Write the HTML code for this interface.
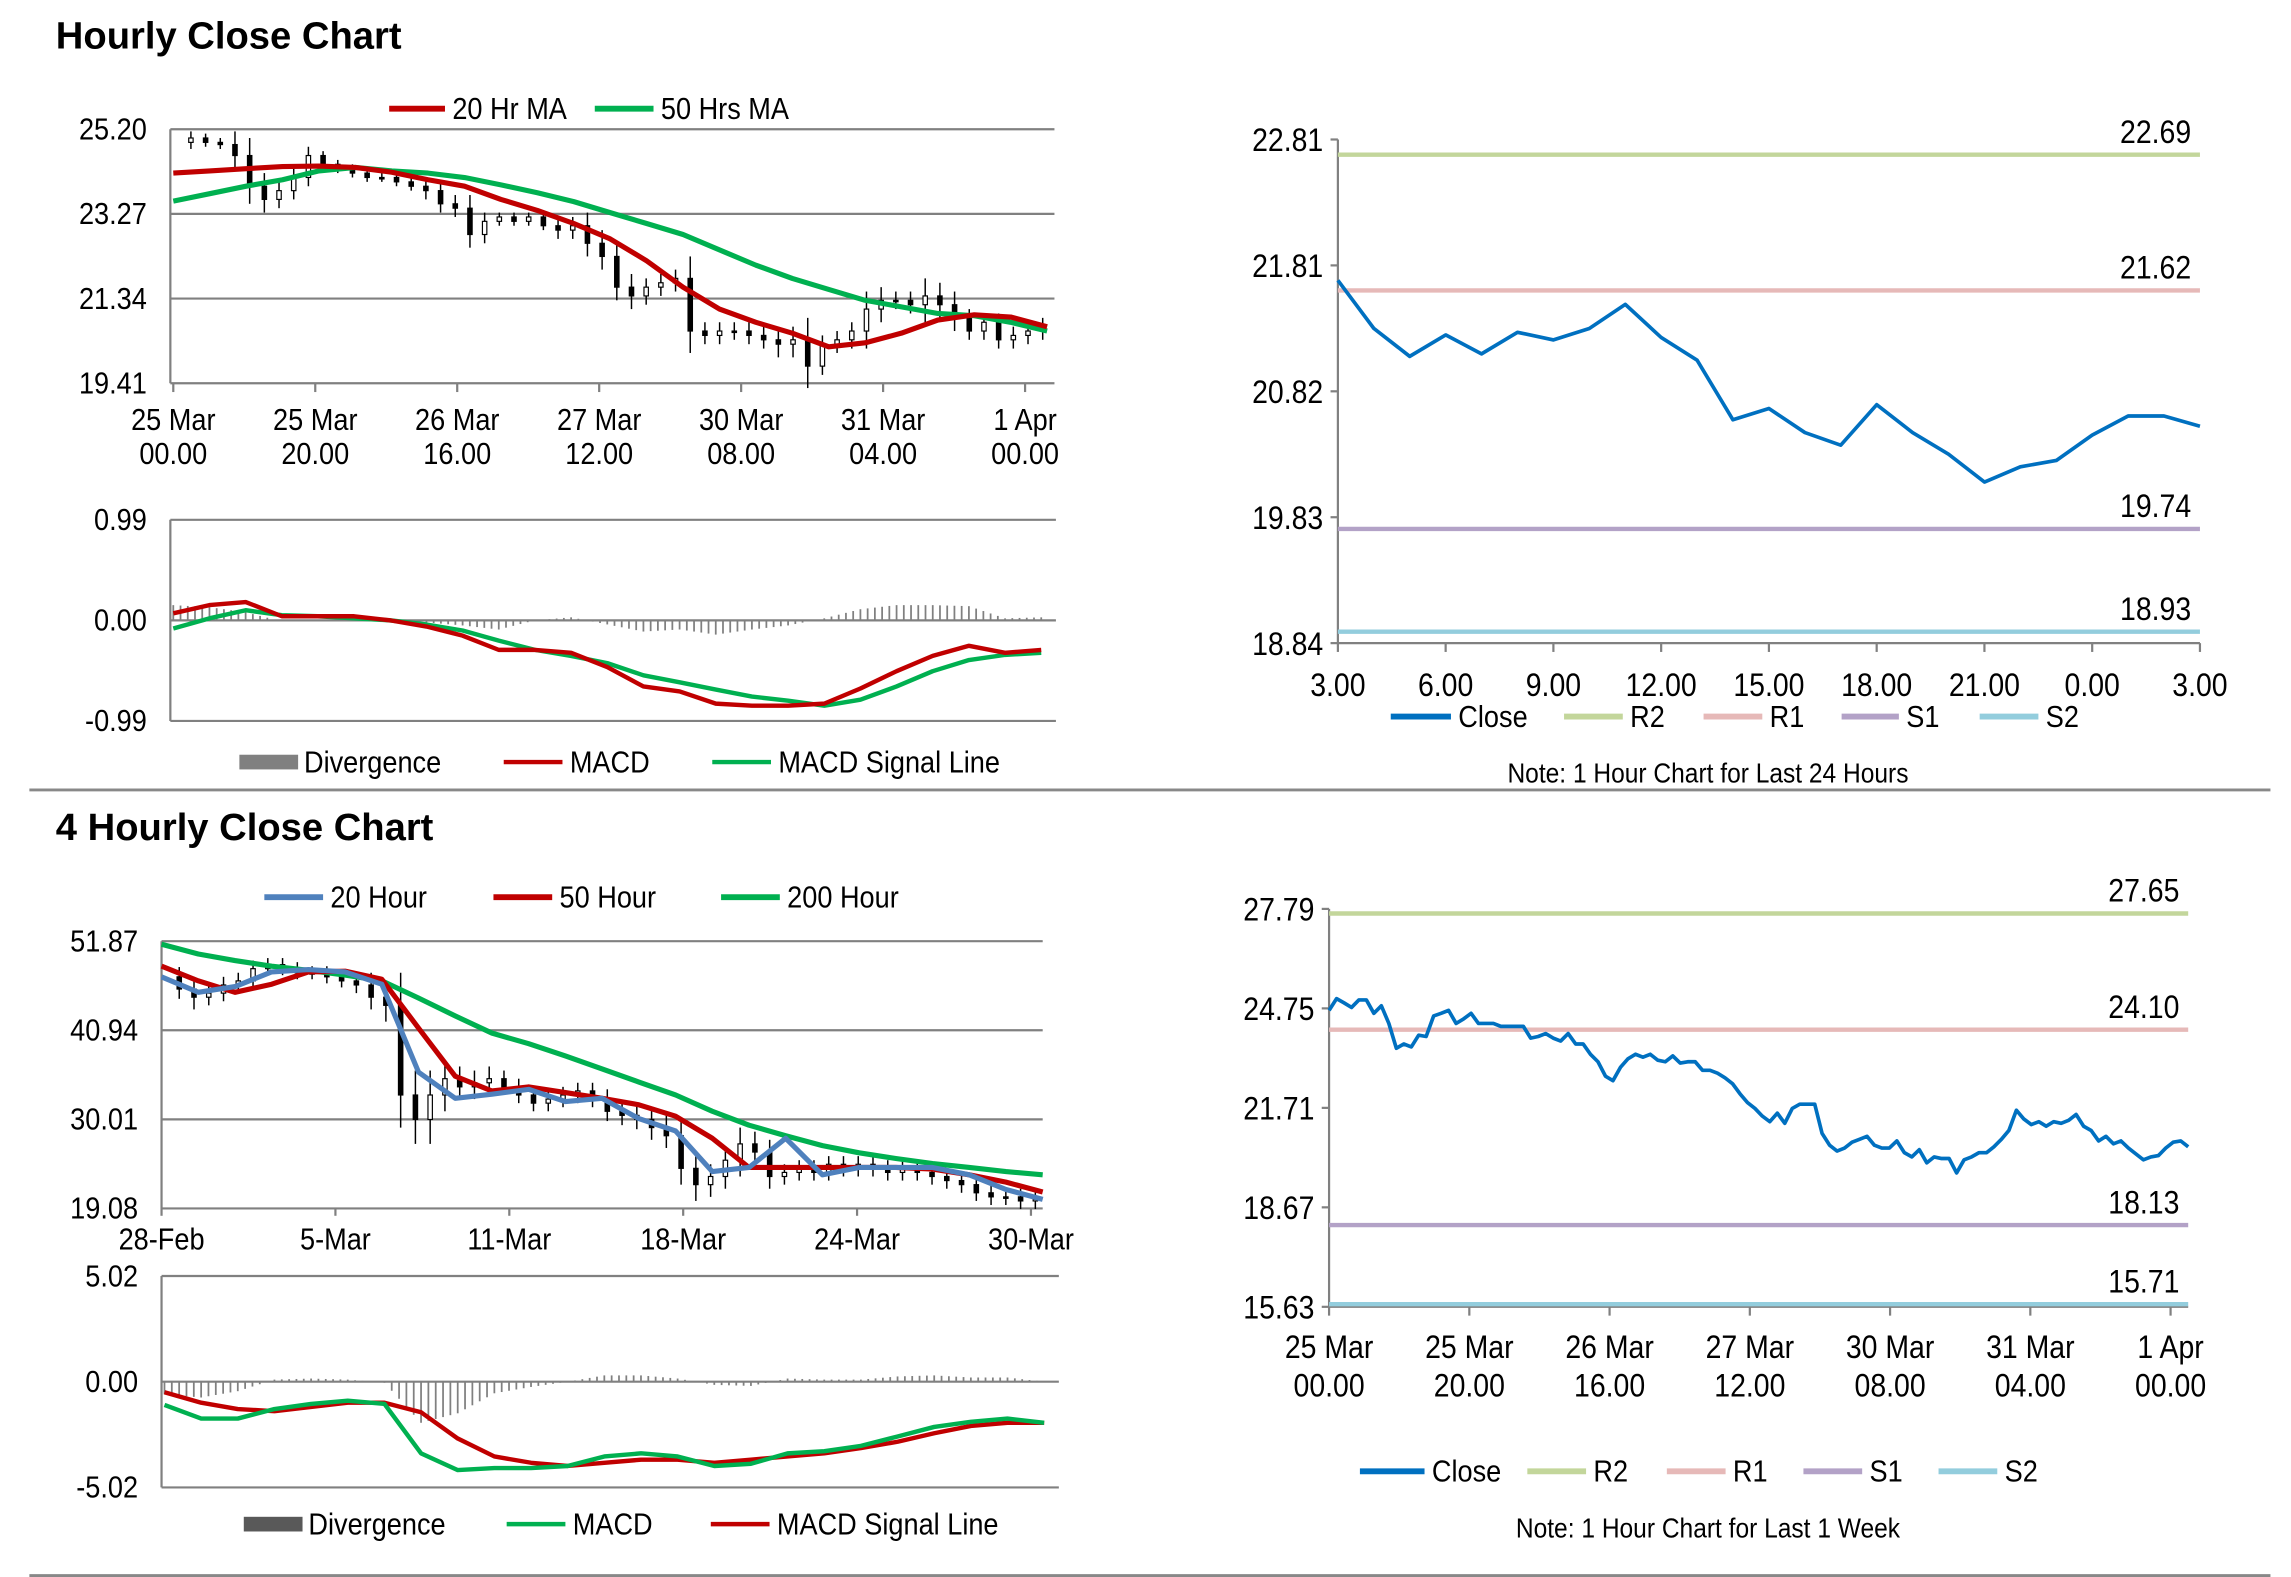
<!DOCTYPE html>
<html><head><meta charset="utf-8"><style>
html,body{margin:0;padding:0;background:#fff}
svg{display:block}
text{font-family:"Liberation Sans Narrow","Liberation Sans",sans-serif;fill:#000}
.t{font-family:"Liberation Sans",sans-serif;font-weight:bold;font-size:26px}
</style></head><body>
<svg id="s" width="2291" height="1577" viewBox="0 0 1560 1074" preserveAspectRatio="none" xmlns="http://www.w3.org/2000/svg">
<text class="t" x="38" y="33">Hourly Close Chart</text>
<text class="t" x="38" y="572">4 Hourly Close Chart</text>
<line x1="20" y1="538" x2="1546" y2="538" stroke="#888" stroke-width="2"/>
<line x1="20" y1="1073" x2="1546" y2="1073" stroke="#888" stroke-width="2"/>
<text transform="translate(1163,533) scale(0.88,1)" font-size="19" text-anchor="middle">Note: 1 Hour Chart for Last 24 Hours</text>
<text transform="translate(1163,1047) scale(0.88,1)" font-size="19" text-anchor="middle">Note: 1 Hour Chart for Last 1 Week</text>
</svg>
<script>
// ---- Chart 1 (hourly candles + MAs)
const c1Closes=[24.9,25.0,24.9,24.85,24.6,23.9,23.6,23.8,24.1,24.6,24.4,24.3,24.2,24.1,24.1,24.0,23.9,23.8,23.5,23.4,22.8,23.1,23.2,23.1,23.2,23.0,22.9,23.0,22.6,22.3,21.6,21.4,21.6,21.7,21.8,20.6,20.5,20.6,20.6,20.5,20.4,20.3,20.4,19.8,20.3,20.4,20.6,21.1,21.3,21.3,21.2,21.4,21.2,20.9,20.6,20.8,20.4,20.5,20.6,20.7];
const c1Wicks=[0.2,0.15,0.1,0.1,0.3,0.4,0.3,0.2,0.2,0.2,0.1,0.1,0.1,0.1,0.1,0.1,0.1,0.2,0.2,0.2,0.3,0.2,0.1,0.1,0.1,0.1,0.2,0.2,0.3,0.3,0.3,0.3,0.2,0.2,0.2,0.5,0.2,0.2,0.2,0.2,0.2,0.3,0.3,0.5,0.2,0.2,0.2,0.4,0.3,0.2,0.2,0.4,0.3,0.3,0.2,0.2,0.2,0.2,0.2,0.2];
const c1MA20=[24.2,24.25,24.3,24.35,24.36,24.33,24.22,24.05,23.9,23.6,23.35,23.05,22.7,22.2,21.6,21.1,20.8,20.55,20.24,20.33,20.55,20.85,20.97,20.92,20.7];
const c1MA50=[23.56,23.73,23.9,24.05,24.25,24.33,24.25,24.2,24.1,23.93,23.75,23.55,23.3,23.05,22.8,22.45,22.1,21.8,21.55,21.3,21.15,21.0,20.95,20.8,20.6];
const c1Ticks=["25.20","23.27","21.34","19.41"];
const c1XLabels=[["25 Mar","00.00"],["25 Mar","20.00"],["26 Mar","16.00"],["27 Mar","12.00"],["30 Mar","08.00"],["31 Mar","04.00"],["1 Apr","00.00"]];
const m1MACD=[0.07,0.15,0.18,0.04,0.04,0.04,0.0,-0.06,-0.15,-0.29,-0.29,-0.32,-0.46,-0.65,-0.7,-0.82,-0.84,-0.84,-0.82,-0.67,-0.5,-0.35,-0.25,-0.32,-0.29];
const m1Signal=[-0.08,0.02,0.1,0.05,0.04,0.02,0,-0.04,-0.1,-0.2,-0.29,-0.35,-0.42,-0.54,-0.61,-0.68,-0.75,-0.79,-0.84,-0.78,-0.65,-0.5,-0.39,-0.34,-0.32];
const m1Ticks=["0.99","0.00","-0.99"];
// ---- Chart 2 (24h close)
const d24Labels=["3.00","6.00","9.00","12.00","15.00","18.00","21.00","0.00","3.00"];
const d24Close=[21.70,21.32,21.10,21.27,21.12,21.29,21.23,21.32,21.51,21.25,21.07,20.60,20.69,20.50,20.40,20.72,20.50,20.33,20.11,20.23,20.28,20.48,20.63,20.63,20.55];
const d24Ticks=["22.81","21.81","20.82","19.83","18.84"];
const d24Levels=[22.69,21.62,19.74,18.93];
// ---- Chart 3 (4 hourly)
const c3Closes=[47.5,46,45,45.5,46.5,47,48.5,49,48.5,48,48,47.5,47,46.5,45,44,33,30,33,35,34,34.5,35,34,33,32,32.5,33,33.5,32.5,31,30.5,30,29,28,24,22,23,25,27,26,23,23.5,24,23.5,24.5,24,24.5,24,23.5,24,23.5,23,22.5,22,21,20.5,20.5,20,20.2];
const c3Wicks=[1,1.2,1.5,1,1,1,1,0.8,0.8,0.8,0.8,0.8,0.8,1,1.5,2,4,3,3,2,1.5,1.5,1.5,1,1,1,1,1,1,1,1.2,1.2,1.2,1.5,1.5,2,2,1.5,1.5,2,1.5,1.5,1,1,1,1,1,1,1,1,1,1,1,1,1,1,1,1,1,1];
const c3MA20=[47.5,45.6,46.3,48.1,48.4,48.1,46.6,35.8,32.6,33.1,33.7,32.2,32.6,30.1,28.6,23.6,24.1,27.7,23.2,24.1,24.1,24.1,23.2,21.4,20.2];
const c3MA50=[48.8,47.0,45.6,46.6,48.1,48.2,47.2,41.2,35.3,33.5,34.0,33.3,32.6,31.8,30.4,27.7,24.1,24.1,24.1,24.1,24.1,23.9,23.2,22.3,21.1];
const c3MA200=[51.5,50.3,49.5,48.8,48.3,47.7,47.0,44.9,42.7,40.6,39.3,37.8,36.2,34.6,33.0,31.0,29.3,28.0,26.8,25.9,25.2,24.6,24.1,23.6,23.2];
const c3Ticks=["51.87","40.94","30.01","19.08"];
const c3XLabels=["28-Feb","5-Mar","11-Mar","18-Mar","24-Mar","30-Mar"];
const m3MACD=[-1.1,-1.75,-1.75,-1.3,-1.05,-0.9,-1.05,-3.4,-4.2,-4.1,-4.1,-4.0,-3.55,-3.4,-3.55,-4.0,-3.9,-3.4,-3.3,-3.05,-2.6,-2.15,-1.9,-1.75,-1.95];
const m3Signal=[-0.5,-1.0,-1.3,-1.4,-1.2,-1.0,-1.0,-1.45,-2.7,-3.55,-3.85,-4.0,-3.85,-3.7,-3.7,-3.85,-3.7,-3.55,-3.4,-3.15,-2.85,-2.45,-2.1,-1.95,-1.95];
const m3Ticks=["5.02","0.00","-5.02"];
// ---- Chart 4 (1 week close)
const wkClose=[24.69,25.05,24.92,24.78,25.01,25.01,24.60,24.83,24.29,23.53,23.66,23.57,23.93,23.89,24.52,24.60,24.69,24.29,24.43,24.60,24.29,24.29,24.29,24.20,24.20,24.20,24.20,23.84,23.89,23.98,23.84,23.75,23.98,23.66,23.66,23.35,23.12,22.68,22.54,22.95,23.21,23.35,23.26,23.35,23.17,23.12,23.30,23.08,23.12,23.12,22.86,22.86,22.77,22.63,22.45,22.14,21.87,21.69,21.46,21.29,21.55,21.24,21.69,21.82,21.82,21.82,20.93,20.57,20.39,20.48,20.66,20.75,20.84,20.57,20.48,20.48,20.70,20.34,20.21,20.43,20.03,20.21,20.16,20.16,19.72,20.12,20.21,20.34,20.34,20.52,20.75,21.02,21.64,21.37,21.20,21.29,21.15,21.29,21.24,21.33,21.51,21.15,21.02,20.70,20.84,20.61,20.70,20.48,20.30,20.12,20.21,20.25,20.48,20.66,20.70,20.52];
const wkTicks=["27.79","24.75","21.71","18.67","15.63"];
const wkLevels=[27.65,24.10,18.13,15.71];
const wkXLabels=[["25 Mar","00.00"],["25 Mar","20.00"],["26 Mar","16.00"],["27 Mar","12.00"],["30 Mar","08.00"],["31 Mar","04.00"],["1 Apr","00.00"]];

const NS="http://www.w3.org/2000/svg";const S=document.getElementById('s');
function mk(tag,at,parent){const e=document.createElementNS(NS,tag);for(const k in at)e.setAttribute(k,at[k]);(parent||S).appendChild(e);return e;}
function txt(x,y,s,size,anchor){const e=mk('text',{transform:'translate('+x+','+y+') scale(0.88,1)','font-size':size+2,'text-anchor':anchor||'start'});e.textContent=s;return e;}
function scale(d0,d1,r0,r1){return v=>r0+(v-d0)*(r1-r0)/(d1-d0);}
function poly(vals,xs,ys,color,w){const pts=vals.map((v,i)=>xs(i).toFixed(1)+','+ys(v).toFixed(1)).join(' ');return mk('polyline',{points:pts,fill:'none',stroke:color,'stroke-width':w,'stroke-linejoin':'round'});}
function legLine(x1,x2,y,color,label,w){const l=mk('line',{x1:x1,y1:y,x2:x2,y2:y,stroke:color,'stroke-width':w||3});const t=txt(x2+5,y+7,label,19);}
const RED='#c00000',GRN='#00b050',BLU='#4f81bd',GRY='#808080';

function grid(x0,x1,ys,ticks,top,bot){ticks.forEach((t,i)=>{const y=scale(0,ticks.length-1,top,bot)(i);const g=mk('line',{x1:x0,x2:x1,y1:y,y2:y,stroke:GRY,'stroke-width':1.5});const l=txt(x0-16,y+7,t,19,'end');});
 const a=mk('line',{x1:x0,x2:x0,y1:top,y2:bot,stroke:GRY,'stroke-width':1.5});}
function candles(closes,wicks,xs,ys,w){closes.forEach((c,i)=>{if(i===0)return;const o=closes[i-1];const hi=Math.max(o,c)+wicks[i],lo=Math.min(o,c)-wicks[i];const x=xs(i);
 const l=mk('line',{x1:x,x2:x,y1:ys(hi),y2:ys(lo),stroke:'#000','stroke-width':1});
 const y1=ys(Math.max(o,c)),y2=ys(Math.min(o,c));const r=mk('rect',{x:x-w/2,y:y1,width:w,height:Math.max(1,y2-y1),fill:c>o?'#fff':'#000',stroke:'#000','stroke-width':0.8});});}
function macd(m,sig,x0,x1,top,bot,ticks,mCol,sCol,dom){const ys=scale(dom,-dom,top,bot);const xs=scale(0,m.length-1,x0+2,x1-4);
 grid(x0,x1+6,ys,ticks,top,bot);
 const n=(m.length-1)*5;for(let k=0;k<=n;k++){const f=k/5,i=Math.floor(f),t=f-i;const j=Math.min(i+1,m.length-1);const d=(m[i]-sig[i])*(1-t)+(m[j]-sig[j])*t;const x=x0+2+(x1-x0-6)*k/n;
  const b=mk('line',{x1:x,x2:x,y1:ys(0),y2:ys(d),stroke:GRY,'stroke-width':1.2});}
 const a=poly(sig,xs,ys,sCol,3);
 const b=poly(m,xs,ys,mCol,3);}

// Chart 1
(function(){const x0=116,x1=713,top=88,bot=261;const ys=scale(25.20,19.41,top,bot);grid(x0,x1+5,ys,c1Ticks,top,bot);
 const xc=scale(0,c1Closes.length-1,120,710);candles(c1Closes,c1Wicks,xc,ys,3);
 const xm=scale(0,c1MA20.length-1,118,713);
 let p=poly(c1MA50,xm,ys,GRN,3.5);
 p=poly(c1MA20,xm,ys,RED,3.5);
 c1XLabels.forEach((l,i)=>{const x=scale(0,6,118,698)(i);const tk=mk('line',{x1:x,x2:x,y1:bot,y2:bot+6,stroke:GRY,'stroke-width':1.5});
  let t=txt(x,293,l[0],19,'middle');t=txt(x,316,l[1],19,'middle');});
 legLine(265,303,74,RED,'20 Hr MA',4);legLine(405,445,74,GRN,'50 Hrs MA',4);
 macd(m1MACD,m1Signal,116,713,354,491,m1Ticks,RED,GRN,0.99);
 const r=mk('rect',{x:163,y:514,width:40,height:10,fill:GRY});
 let t=txt(207,526,'Divergence',19);
 legLine(343,383,519,RED,'MACD');legLine(485,525,519,GRN,'MACD Signal Line');})();

// Chart 2 / 4 (level charts)
function level(x0,x1,top,bot,dmax,dmin,ticks,levels,close,xlab2,xlabY){const ys=scale(dmax,dmin,top,bot);const xs=scale(0,close.length-1,x0,x1);
 const a=mk('line',{x1:x0,x2:x0,y1:top,y2:bot,stroke:GRY,'stroke-width':1.5});
 const b=mk('line',{x1:x0,x2:x1,y1:bot,y2:bot,stroke:GRY,'stroke-width':1.5});
 ticks.forEach((t,i)=>{const y=scale(0,ticks.length-1,top,bot)(i);const k=mk('line',{x1:x0-5,x2:x0,y1:y,y2:y,stroke:GRY,'stroke-width':1.5});const l=txt(x0-10,y+8,t,20,'end');});
 const cols=['#c3d69b','#e6b9b8','#b3a2c7','#93cddd'],nm=['r2','r1','s1','s2'];
 levels.forEach((v,i)=>{const y=ys(v);const l=mk('line',{x1:x0,x2:x1,y1:y,y2:y,stroke:cols[i],'stroke-width':3});
  const t=txt(x1-6,y-8,v.toFixed(2),20,'end');});
 const p=poly(close,xs,ys,'#0070c0',2.5);
 xlab2.forEach((l,i)=>{const x=scale(0,xlab2.length-1,x0,x1-(xlab2.length===7?12:0))(i);const k=mk('line',{x1:x,x2:x,y1:bot,y2:bot+6,stroke:GRY,'stroke-width':1.5});
  const rows=Array.isArray(l)?l:[l];rows.forEach((r,j)=>{const t=txt(x,xlabY+j*26,r,20,'middle');});});
 return cols;}
(function(){const cols=level(911,1498,95,438,22.81,18.84,d24Ticks,d24Levels,d24Close,d24Labels,474);
 legLine(947,988,488,'#0070c0','Close',4);legLine(1065,1105,488,cols[0],'R2',4);legLine(1160,1200,488,cols[1],'R1',4);legLine(1254,1293,488,cols[2],'S1',4);legLine(1348,1388,488,cols[3],'S2',4);})();
(function(){const cols=level(905,1490,619,890,27.79,15.63,wkTicks,wkLevels,wkClose,wkXLabels,925);
 legLine(926,970,1002,'#0070c0','Close',4);legLine(1040,1080,1002,cols[0],'R2',4);legLine(1135,1175,1002,cols[1],'R1',4);legLine(1228,1268,1002,cols[2],'S1',4);legLine(1320,1360,1002,cols[3],'S2',4);})();

// Chart 3
(function(){const x0=110,x1=710,top=641,bot=823;const ys=scale(51.87,19.08,top,bot);grid(x0,x1,ys,c3Ticks,top,bot);
 const xc=scale(0,c3Closes.length-1,112,705);candles(c3Closes,c3Wicks,xc,ys,3);
 const xm=scale(0,c3MA20.length-1,110,710);
 let p=poly(c3MA200,xm,ys,GRN,3.5);
 p=poly(c3MA50,xm,ys,RED,3.5);
 p=poly(c3MA20,xm,ys,BLU,3.5);
 c3XLabels.forEach((l,i)=>{const x=scale(0,5,110,702)(i);const k=mk('line',{x1:x,x2:x,y1:bot,y2:bot+5,stroke:GRY,'stroke-width':1.5});
  const t=txt(x,851,l,19,'middle');});
 legLine(180,220,611,BLU,'20 Hour',4);legLine(336,376,611,RED,'50 Hour',4);legLine(491,531,611,GRN,'200 Hour',4);
 macd(m3MACD,m3Signal,110,715,869,1013,m3Ticks,GRN,RED,5.02);
 const r=mk('rect',{x:166,y:1033,width:40,height:10,fill:'#595959'});
 let t=txt(210,1045,'Divergence',19);
 legLine(345,385,1038,GRN,'MACD');legLine(484,524,1038,RED,'MACD Signal Line');})();
</script>
</body></html>
